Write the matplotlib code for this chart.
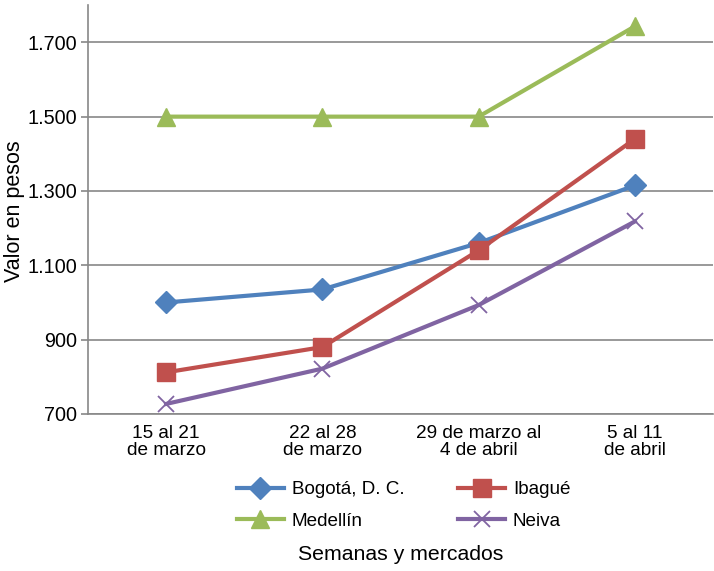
import matplotlib.pyplot as plt

semanas = ['15 al 21\nde marzo', '22 al 28\nde marzo', '29 de marzo al\n4 de abril', '5 al 11\nde abril']
bogota = [1000, 1035, 1160, 1315]
ibague = [812, 880, 1140, 1440]
medellin = [1500, 1500, 1500, 1743]
neiva = [727, 822, 993, 1218]
y_ticks = [700, 900, 1100, 1300, 1500, 1700]
y_labels = ['700', '900', '1.100', '1.300', '1.500', '1.700']

plt.rcParams['font.family'] = ['Liberation Sans', 'DejaVu Sans']
plt.rcParams['font.size'] = 14.3

fig = plt.figure(figsize=(7.14, 5.71), dpi=100)
ax = fig.add_axes([0.1232, 0.275, 0.8754, 0.716])

x = range(len(semanas))
l1, = ax.plot(x, bogota, color='#4F81BD', lw=3, marker='D', ms=11, label='Bogotá, D. C.')
l2, = ax.plot(x, ibague, color='#C0504D', lw=3, marker='s', ms=13, label='Ibagué')
l3, = ax.plot(x, medellin, color='#9BBB59', lw=3, marker='^', ms=13, label='Medellín')
l4, = ax.plot(x, neiva, color='#8064A2', lw=3, marker='x', ms=12, mew=1.3, label='Neiva')

ax.set_xlim(-0.5, 3.5)
ax.set_ylim(700, 1800)
ax.set_yticks(y_ticks)
ax.set_yticklabels(y_labels)
ax.set_xticks(list(x))
ax.set_xticklabels(semanas, linespacing=1.0, fontsize=13.7)
ax.tick_params(axis='x', length=0, pad=8)
ax.tick_params(axis='y', length=5, color='#888888', width=1.2, pad=3)
ax.grid(axis='y', color='#888888', lw=1.2)
ax.set_axisbelow(True)
for s in ['top', 'right']:
    ax.spines[s].set_visible(False)
for s in ['left', 'bottom']:
    ax.spines[s].set_color('#888888')
    ax.spines[s].set_linewidth(1.2)

ax.set_ylabel('Valor en pesos', fontsize=15.5, va='center')
ax.yaxis.set_label_coords(-0.117, 0.495)
ax.set_xlabel('Semanas y mercados', fontsize=15.3)
ax.xaxis.set_label_coords(0.5, -0.32)

ax.legend(handles=[l1, l3, l2, l4], ncol=2, loc='upper center', bbox_to_anchor=(0.505, -0.123),
          frameon=False, fontsize=13.6, handlelength=2.5, columnspacing=2.85,
          labelspacing=0.75, handletextpad=0.4)

fig.savefig('out.png', dpi=100)
